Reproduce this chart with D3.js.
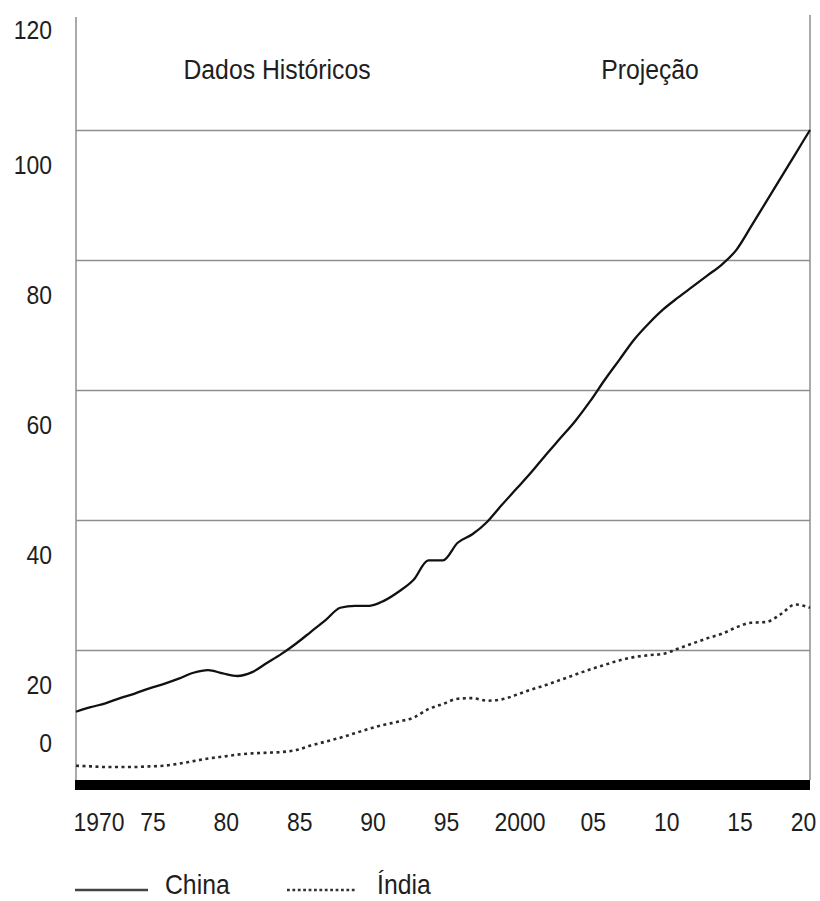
<!DOCTYPE html>
<html>
<head>
<meta charset="utf-8">
<script src="https://cdn.jsdelivr.net/npm/d3@7"></script>
<style>
  html, body { margin: 0; padding: 0; background: #fff; }
  svg { display: block; font-family: "Liberation Sans", Arial, Helvetica, sans-serif; }
</style>
</head>
<body>
<svg id="chart" width="820" height="901"></svg>
<script>
// ---- data ----
const years = [1970,1971,1972,1973,1974,1975,1976,1977,1978,1979,
               1980,1981,1982,1983,1984,1985,1986,1987,1988,1989,
               1990,1991,1992,1993,1994,1995,1996,1997,1998,1999,
               2000,2001,2002,2003,2004,2005,2006,2007,2008,2009,
               2010,2011,2012,2013,2014,2015,2016,2017,2018,2019,2020];
const china = [10.5,11.2,11.8,12.6,13.3,14.1,14.8,15.6,16.5,16.9,
               16.4,16.0,16.6,18.0,19.4,21.0,22.8,24.6,26.5,26.8,
               26.8,27.6,29.0,30.8,33.8,33.8,36.5,37.8,39.7,42.3,
               44.8,47.3,50.0,52.6,55.2,58.2,61.5,64.6,67.7,70.2,
               72.4,74.2,75.9,77.6,79.3,81.6,85.2,88.9,92.6,96.3,100];
const india = [2.2,2.1,2.0,2.0,2.0,2.1,2.2,2.5,2.9,3.3,
               3.6,3.9,4.1,4.2,4.3,4.6,5.3,5.9,6.5,7.2,
               7.9,8.5,9.0,9.6,10.9,11.7,12.5,12.6,12.2,12.4,
               13.1,13.9,14.6,15.4,16.2,17.0,17.7,18.4,18.9,19.2,
               19.4,20.2,21.0,21.8,22.5,23.5,24.2,24.3,25.5,27.0,26.5];
const seriesNames = ["China", "Índia"];
const xTickValues = [1970,1975,1980,1985,1990,1995,2000,2005,2010,2015,2020];
const xTickLabels = ["1970","75","80","85","90","95","2000","05","10","15","20"];
const yTickValues = [0,20,40,60,80,100,120];
const gridValues = [20,40,60,80,100];
const periodLabels = ["Dados Históricos", "Projeção"];

// ---- drawing ----
(function draw() {
const svg = d3.select("#chart");
const pL = 76, pR = 810, pB = 780, pT = 0;
const x = d3.scaleLinear().domain([1970, 2020]).range([pL, pR]);
const y = d3.scaleLinear().domain([0, 120]).range([pB, pT]);
const gridColor = "#8e8e8e";
const textColor = "#1e1e1e";
const squeeze = 0.9;

// condense text horizontally (reference type is narrow and tall)
function condense(sel) {
  sel.each(function () {
    const t = d3.select(this);
    const tx = +t.attr("x") || 0, ty = +t.attr("y") || 0;
    t.attr("x", 0).attr("y", 0)
     .attr("transform", `translate(${tx},${ty}) scale(${squeeze},1)`);
  });
}

// gridlines
const grid = svg.append("g")
  .attr("transform", `translate(${pL},0)`)
  .call(d3.axisLeft(y).tickValues(gridValues).tickSize(-(pR - pL)).tickFormat(""));
grid.select(".domain").remove();
grid.selectAll("line").attr("stroke", gridColor).attr("stroke-width", 1.4);

// vertical frame lines
svg.append("line").attr("x1", pL).attr("x2", pL).attr("y1", 17).attr("y2", pB)
  .attr("stroke", gridColor).attr("stroke-width", 1.5);
svg.append("line").attr("x1", pR).attr("x2", pR).attr("y1", 15).attr("y2", pB)
  .attr("stroke", gridColor).attr("stroke-width", 1.5);

// y labels
const yAx = svg.append("g")
  .attr("transform", `translate(${pL},0)`)
  .call(d3.axisLeft(y).tickValues(yTickValues).tickSize(0).tickPadding(24));
yAx.select(".domain").remove();
yAx.selectAll("text")
  .attr("y", d => d === 0 ? -37 : (d === 120 ? 30 : 35))
  .attr("fill", textColor)
  .style("font-size", "25.5px")
  .style("font-family", "'Liberation Sans', Arial, sans-serif")
  .call(condense);

// x labels
const xAx = svg.append("g")
  .attr("transform", `translate(0,${pB})`)
  .call(d3.axisBottom(x).tickValues(xTickValues).tickSize(0).tickPadding(33)
        .tickFormat((d, i) => xTickLabels[i]));
xAx.select(".domain").remove();
xAx.selectAll("text")
  .attr("fill", textColor)
  .style("font-size", "25.5px")
  .style("font-family", "'Liberation Sans', Arial, sans-serif")
  .attr("text-anchor", (d, i) => i === 0 ? "start" : "middle")
  .attr("x", (d, i) => i === 0 ? -3 : (i === xTickValues.length - 1 ? -7 : 3))
  .call(condense);

// lines
const lineGen = d3.line()
  .x((d, i) => x(years[i]))
  .y(d => y(d))
  .curve(d3.curveMonotoneX);

svg.append("path").datum(india)
  .attr("d", lineGen)
  .attr("fill", "none")
  .attr("stroke", "#2a2a2a")
  .attr("stroke-width", 2.6)
  .attr("stroke-dasharray", "3,3.5");

svg.append("path").datum(china)
  .attr("d", lineGen)
  .attr("fill", "none")
  .attr("stroke", "#111")
  .attr("stroke-width", 2.3)
  .attr("stroke-linejoin", "round");

// thick base bar
svg.append("rect")
  .attr("x", x(1970) - 1).attr("y", y(0))
  .attr("width", x(2020) - x(1970) + 1).attr("height", 10)
  .attr("fill", "#000");

// period labels
const titles = svg.append("g");
titles.append("text").attr("x", 277).attr("y", 72).text(periodLabels[0]);
titles.append("text").attr("x", 650).attr("y", 72).text(periodLabels[1]);
titles.selectAll("text")
  .attr("text-anchor", "middle").attr("dominant-baseline", "middle")
  .attr("fill", textColor).style("font-size", "27.5px")
  .call(condense);

// legend
const legY = 890;
const leg = svg.append("g");
leg.append("line").attr("x1", 75).attr("x2", 148).attr("y1", legY).attr("y2", legY)
  .attr("stroke", "#444").attr("stroke-width", 2.5);
leg.append("line").attr("x1", 287).attr("x2", 357).attr("y1", legY).attr("y2", legY)
  .attr("stroke", "#333").attr("stroke-width", 2.6).attr("stroke-dasharray", "2.8,2.6");
leg.append("text").attr("x", 165).attr("y", legY - 3).text(seriesNames[0]);
leg.append("text").attr("x", 377).attr("y", legY - 3).text(seriesNames[1]);
leg.selectAll("text")
  .attr("dominant-baseline", "middle")
  .attr("fill", textColor).style("font-size", "27.5px")
  .call(condense);
})();
</script>
</body>
</html>
